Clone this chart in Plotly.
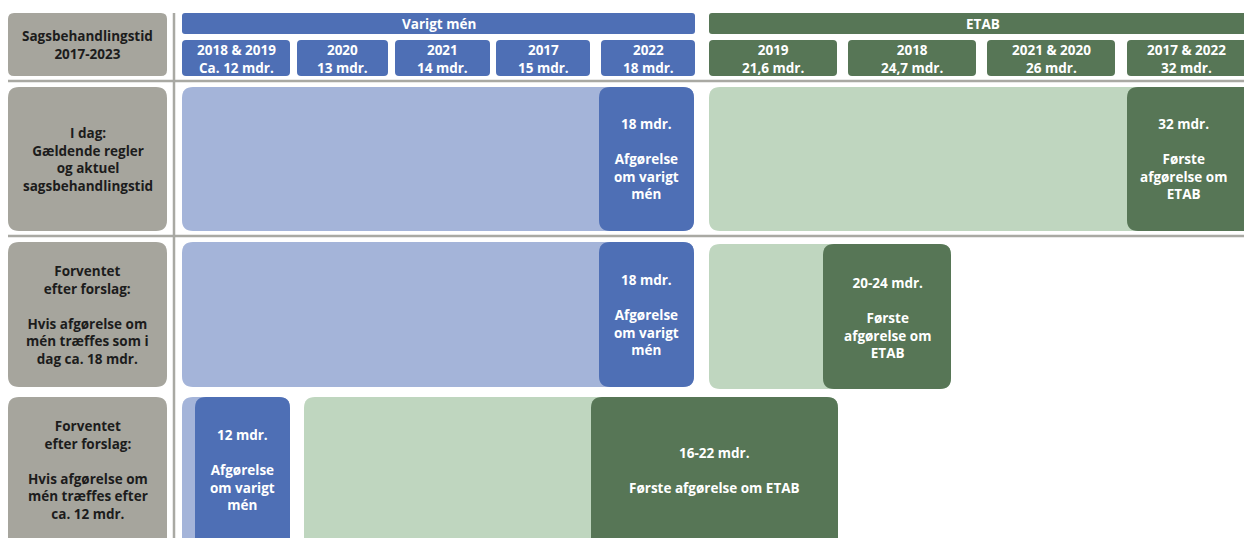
import plotly.graph_objects as go

# ---- data ----
header_label = "Sagsbehandlingstid<br>2017-2023"
groups = ["Varigt mén", "ETAB"]

men_years = ["2018 & 2019", "2020", "2021", "2017", "2022"]
men_months = ["Ca. 12 mdr.", "13 mdr.", "14 mdr.", "15 mdr.", "18 mdr."]
etab_years = ["2019", "2018", "2021 & 2020", "2017 & 2022"]
etab_months = ["21,6 mdr.", "24,7 mdr.", "26 mdr.", "32 mdr."]

row_labels = [
    "I dag:<br>Gældende regler<br>og aktuel<br>sagsbehandlingstid",
    "Forventet<br>efter forslag:<br><br>Hvis afgørelse om<br>mén træffes som i<br>dag ca. 18 mdr.",
    "Forventet<br>efter forslag:<br><br>Hvis afgørelse om<br>mén træffes efter<br>ca. 12 mdr.",
]
men_result = ["18 mdr.", "18 mdr.", "12 mdr."]
etab_result = ["32 mdr.", "20-24 mdr.", "16-22 mdr."]
men_text = "Afgørelse<br>om varigt<br>mén"
etab_text = [
    "Første<br>afgørelse om<br>ETAB",
    "Første<br>afgørelse om<br>ETAB",
    "Første afgørelse om ETAB",
]

# ---- layout geometry (diagram units = pixels) ----
W, H = 1244, 538
label_x = (8, 167)
men_bar = (182, 695)
etab_bar = (709, 1256)
men_cols = [(182, 290), (297, 388), (395, 490), (496, 590), (601, 695)]
etab_cols = [(709, 837), (848, 976), (987, 1115), (1127, 1262)]

rows_y = [(87, 231), (242, 387), (397, 560)]
rows_center = [159, 315, 470]
green_y = [(87, 231), (244, 389), (397, 560)]
# (light start, light end, dark start, dark end)
men_spans = [(182, 694, 599, 694), (182, 694, 599, 694), (182, 290, 195, 290)]
etab_spans = [(709, 1262, 1127, 1262), (709, 951, 823, 951), (304, 838, 591, 838)]

GREY = "#a6a59d"
LINE = "#a9a9a3"
BLUE = "#4e6fb5"
LBLUE = "#a4b4d9"
GREEN = "#577656"
LGREEN = "#bfd6bf"
FONT = "Open Sans"
FS = 13.5


def rounded(x0, y0, x1, y1, r):
    return (
        f"M{x0 + r},{y0} L{x1 - r},{y0} Q{x1},{y0} {x1},{y0 + r} "
        f"L{x1},{y1 - r} Q{x1},{y1} {x1 - r},{y1} L{x0 + r},{y1} "
        f"Q{x0},{y1} {x0},{y1 - r} L{x0},{y0 + r} Q{x0},{y0} {x0 + r},{y0} Z"
    )


shapes = []
annotations = []


def box(x0, y0, x1, y1, color, r=10):
    shapes.append(dict(type="path", path=rounded(x0, y0, x1, y1, r),
                       fillcolor=color, line=dict(width=0), layer="above"))


def text(x, y, t, color="white", size=FS):
    annotations.append(dict(x=x, y=y, text=f"<b>{t}</b>", showarrow=False,
                            xanchor="center", yanchor="middle",
                            font=dict(family=FONT, size=size, color=color)))


# grid lines
for y in [81, 236]:
    shapes.append(dict(type="line", x0=8, x1=W + 20, y0=y, y1=y,
                       line=dict(color=LINE, width=2.5), layer="below"))
shapes.append(dict(type="line", x0=174, x1=174, y0=13, y1=H + 20,
                   line=dict(color=LINE, width=2.5), layer="below"))

# header
box(label_x[0], 13, label_x[1], 76, GREY, 6)
text(sum(label_x) / 2, 45, header_label, color="#1c1c1c")

for (x0, x1), grp, col in zip([men_bar, etab_bar], groups, [BLUE, GREEN]):
    box(x0, 13, x1, 34, col, 3)
    text((x0 + x1) / 2, 24, grp)

for (x0, x1), yr, m in zip(men_cols, men_years, men_months):
    box(x0, 40, x1, 76, BLUE, 4)
    text((x0 + x1) / 2, 58.5, f"{yr}<br>{m}")

for (x0, x1), yr, m in zip(etab_cols, etab_years, etab_months):
    box(x0, 40, x1, 76, GREEN, 4)
    text(min((x0 + x1) / 2, 1186), 58.5, f"{yr}<br>{m}")

# rows
for i, lab in enumerate(row_labels):
    y0, y1 = rows_y[i]
    yc = rows_center[i]
    box(label_x[0], y0, label_x[1], y1, GREY, 11)
    text(sum(label_x) / 2, yc, lab, color="#1c1c1c")

    lx0, lx1, dx0, dx1 = men_spans[i]
    box(lx0, y0, lx1, y1, LBLUE, 11)
    box(dx0, y0, dx1, y1, BLUE, 11)
    text((dx0 + dx1) / 2, yc, f"{men_result[i]}<br><br>{men_text}")

    gy0, gy1 = green_y[i]
    lx0, lx1, dx0, dx1 = etab_spans[i]
    box(lx0, gy0, lx1, gy1, LGREEN, 11)
    box(dx0, gy0, dx1, gy1, GREEN, 11)
    gc = (gy0 + gy1) / 2 if i < 2 else yc
    text(min((dx0 + dx1) / 2, 1183), gc + (1 if i == 1 else 0),
         f"{etab_result[i]}<br><br>{etab_text[i]}")

fig = go.Figure()
fig.update_layout(
    width=W, height=H,
    margin=dict(l=0, r=0, t=0, b=0),
    paper_bgcolor="white", plot_bgcolor="white",
    xaxis=dict(range=[0, W], visible=False, fixedrange=True),
    yaxis=dict(range=[H, 0], visible=False, fixedrange=True),
    shapes=shapes, annotations=annotations,
    showlegend=False,
)
fig.write_html("out.html", config={"displayModeBar": False},
               post_script="document.body.style.margin='0';")
